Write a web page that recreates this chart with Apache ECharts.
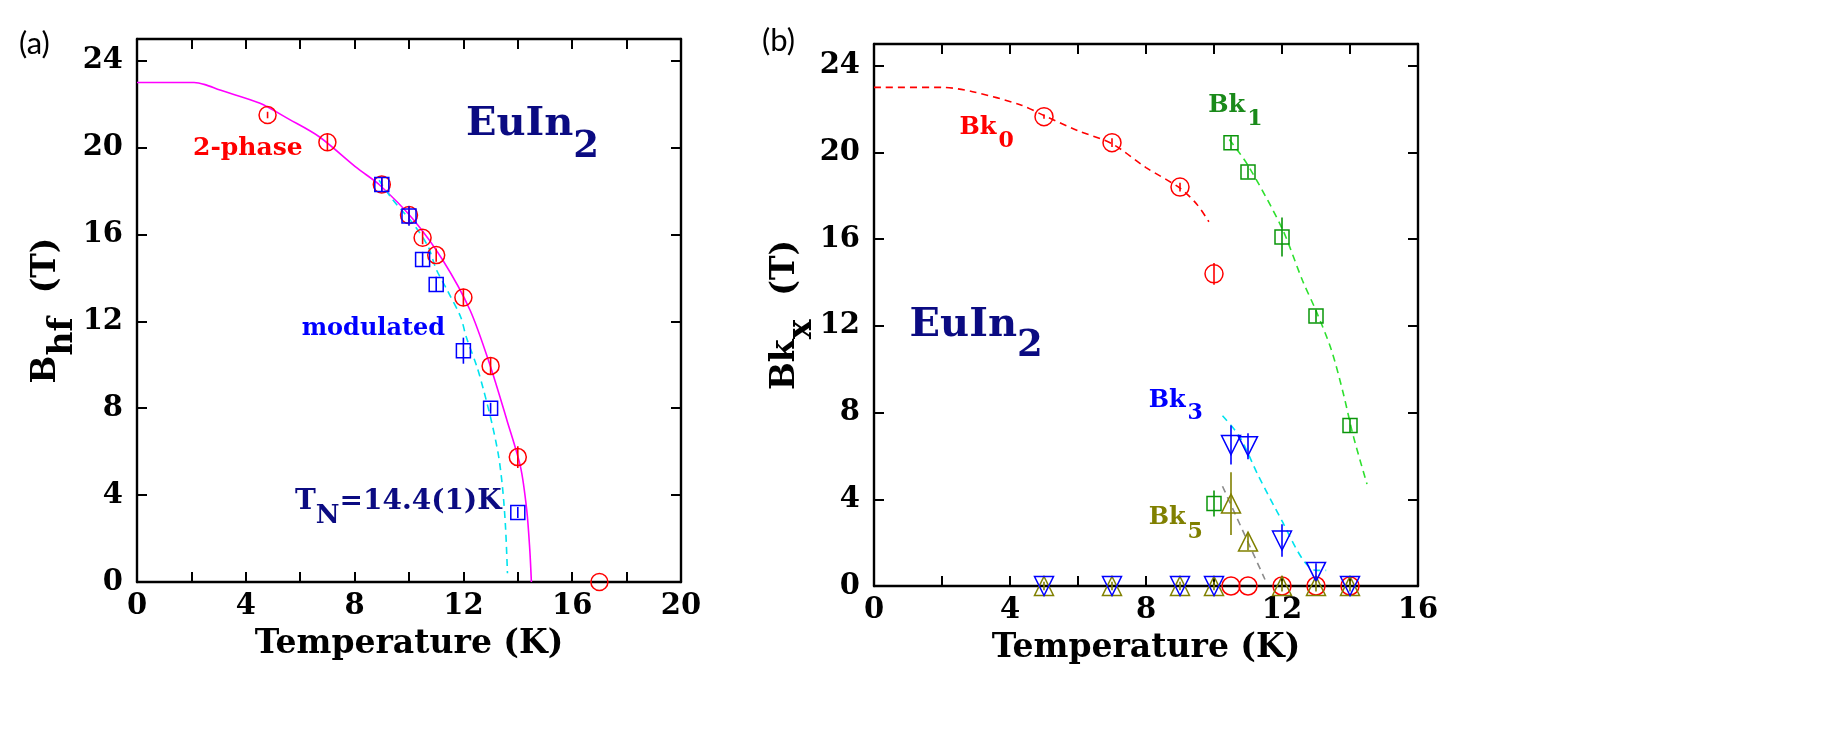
<!DOCTYPE html>
<html><head><meta charset="utf-8">
<script src="https://cdn.jsdelivr.net/npm/echarts@6/dist/echarts.min.js"></script>
<style>html,body{margin:0;padding:0;background:#fff}#c{width:1844px;height:731px}</style>
</head><body><div id="c"></div>
<script>
// ---------- Panel (a) data ----------
const aPhaseT = [4.8, 7, 9, 10, 10.5, 11, 12, 13, 14, 17];
const aPhaseB = [21.5, 20.25, 18.3, 16.9, 15.85, 15.05, 13.1, 9.95, 5.75, 0];
const aPhaseErr = [0.15, 0.4, 0.3, 0.4, 0.3, 0.3, 0.4, 0.4, 0.5, 0];
const aModT = [9, 10, 10.5, 11, 12, 13, 14];
const aModB = [18.3, 16.85, 14.85, 13.7, 10.65, 8.0, 3.2];
const aModErr = [0.3, 0.45, 0.35, 0.35, 0.6, 0.25, 0.25];
const aFitT = [0, 2.1, 2.5, 3.05, 4.5, 5.6, 6.7, 8.1, 8.9, 10.15, 11.25, 12.25, 13, 13.6, 14.1, 14.33, 14.44, 14.5];
const aFitB = [23, 23, 22.9, 22.65, 22.05, 21.3, 20.5, 19.05, 18.3, 16.7, 14.8, 12.5, 9.9, 7.45, 5.3, 3.3, 1.5, 0];
const aModFitT = [8.9, 9.4, 10.15, 10.7, 11, 11.4, 11.9, 12.1, 12.5, 12.75, 13.05, 13.3, 13.45, 13.55, 13.62];
const aModFitB = [18.5, 17.6, 16.5, 15.45, 14.4, 13.45, 12.2, 11.3, 9.9, 8.8, 7.3, 5.75, 4.2, 2.5, 0.4];

// ---------- Panel (b) data ----------
const bk0T = [5, 7, 9, 10, 10.5, 11, 12, 13, 14];
const bk0B = [21.65, 20.45, 18.4, 14.4, 0, 0, 0, 0, 0];
const bk0Err = [0.1, 0.2, 0.2, 0.5, 0, 0, 0, 0, 0];
const bk1T = [10, 10.5, 11, 12, 13, 14];
const bk1B = [3.8, 20.45, 19.1, 16.1, 12.45, 7.4];
const bk1Err = [0.6, 0.3, 0.3, 0.9, 0.3, 0.3];
const bk3T = [5, 7, 9, 10, 10.5, 11, 12, 13, 14];
const bk3B = [0, 0, 0, 0, 6.5, 6.45, 2.1, 0.65, 0];
const bk3Err = [0, 0, 0, 0, 0.9, 0.6, 0.75, 0.4, 0];
const bk5T = [5, 7, 9, 10, 10.5, 11, 12, 13, 14];
const bk5B = [0, 0, 0, 0, 3.8, 2.05, 0, 0, 0];
const bk5Err = [0.2, 0.2, 0.2, 0.2, 1.45, 0.4, 0.25, 0.25, 0.25];
const bk0FitT = [0, 2, 2.9, 4.3, 5, 6, 7, 8, 9, 9.5, 9.85];
const bk0FitB = [23, 23, 22.8, 22.2, 21.7, 21.0, 20.4, 19.3, 18.35, 17.6, 16.8];
const bk1FitT = [10.45, 11, 12, 12.6, 13, 13.45, 13.8, 14.1, 14.5];
const bk1FitB = [20.6, 19.4, 16.5, 14.1, 12.7, 10.9, 8.9, 6.9, 4.7];
const bk3FitT = [10.25, 10.75, 11.3, 12, 12.6, 13, 13.3];
const bk3FitB = [7.85, 6.9, 5.1, 3.0, 1.25, 0.72, 0.72];
const bk5FitT = [10.25, 11.5];
const bk5FitB = [4.6, 0.3];

// ---------- axis ticks ----------
const aXMax = 20, bXMax = 16, yMax = 25, xTickStep = 2, xLabelStep = 4, yTickStep = 4;

const RED = '#ff0000', BLUE = '#0000ff', NAVY = '#0b0b82', MAG = '#ff00ff', CYAN = '#00e3ee',
      GREEN = '#0a960a', GREENL = '#1a8a1a', LGREEN = '#2ee02e', OLIVE = '#808000', GRAY = '#8c8c8c';
const SERIF = '"DejaVu Serif", serif';

const zip = (xs, ys) => xs.map((x, i) => [x, ys[i]]);
const zip3 = (xs, ys, es) => xs.map((x, i) => [x, ys[i], es[i]]);

const ctx = document.createElement('canvas').getContext('2d');
function tw(text, size) { ctx.font = 'bold ' + size + 'px ' + SERIF; return ctx.measureText(text).width; }

// segments laid out left-to-right in local coords; baseline at y=0
function chain(segs, color) {
  let x = 0; const out = [];
  segs.forEach(s => {
    x += (s.gap || 0);
    out.push({
      type: 'text', x: x, y: (s.dy || 0) - 0.346 * s.s, silent: true,
      style: { text: s.t, fill: s.c || color, font: 'bold ' + s.s + 'px ' + SERIF,
               align: 'left', verticalAlign: 'middle', textAlign: 'left', textVerticalAlign: 'middle' }
    });
    x += tw(s.t, s.s);
  });
  return { children: out, width: x };
}
function label(x, baseline, segs, color) {
  const c = chain(segs, color);
  return { type: 'group', x: x, y: baseline, children: c.children, silent: true };
}
function vlabel(baselineX, centerY, segs, color) {
  const c = chain(segs, color);
  return { type: 'group', x: baselineX, y: centerY + c.width / 2, rotation: Math.PI / 2, children: c.children, silent: true };
}

function xAx(gi, max, pos, show) {
  return {
    type: 'value', gridIndex: gi, min: 0, max: max, interval: xTickStep, position: pos,
    axisLine: { onZero: false, lineStyle: { color: '#000', width: 2.4 } },
    axisTick: { inside: true, length: 10, lineStyle: { color: '#000', width: 2 } },
    axisLabel: { show: show, margin: 10, color: '#000', fontFamily: SERIF, fontWeight: 'bold', fontSize: 29,
                 formatter: v => (v % xLabelStep === 0 ? String(v) : '') },
    splitLine: { show: false },
    name: show ? 'Temperature (K)' : '', nameLocation: 'middle', nameGap: 46,
    nameTextStyle: { color: '#000', fontFamily: SERIF, fontWeight: 'bold', fontSize: 33 }
  };
}
function yAx(gi, pos, show) {
  return {
    type: 'value', gridIndex: gi, min: 0, max: yMax, interval: yTickStep, position: pos,
    axisLine: { onZero: false, lineStyle: { color: '#000', width: 2.4 } },
    axisTick: { inside: true, length: 10, lineStyle: { color: '#000', width: 2 } },
    axisLabel: { show: show, margin: 14, color: '#000', fontFamily: SERIF, fontWeight: 'bold', fontSize: 29,
                 formatter: v => (v % yTickStep === 0 ? String(v) : '') },
    splitLine: { show: false }
  };
}

function fit(xi, data, color, dashed) {
  return { type: 'line', xAxisIndex: xi, yAxisIndex: xi, data: data, showSymbol: false, symbol: 'none',
           smooth: 0.3, silent: true, z: 2,
           lineStyle: { color: color, width: 1.6, type: dashed ? [7, 5] : 'solid' } };
}
function pts(xi, data, symbol, size, color, rot) {
  return { type: 'scatter', xAxisIndex: xi, yAxisIndex: xi, data: data, symbol: symbol, symbolSize: size,
           symbolRotate: rot || 0, silent: true, z: 4,
           itemStyle: { color: 'rgba(0,0,0,0)', borderColor: color, borderWidth: 1.5, opacity: 1 } };
}
function errs(xi, data, color) {
  return { type: 'custom', xAxisIndex: xi, yAxisIndex: xi, data: data, silent: true, z: 5, clip: false,
           encode: { x: 0, y: 1 },
           renderItem: (params, api) => {
             const x = api.value(0), y = api.value(1), e = api.value(2);
             if (!e) return null;
             const p1 = api.coord([x, y - e]), p2 = api.coord([x, y + e]);
             return { type: 'line', shape: { x1: p1[0], y1: p1[1], x2: p2[0], y2: p2[1] },
                      style: { stroke: color, lineWidth: 1.6 } };
           } };
}

const chart = echarts.init(document.getElementById('c'), null, { renderer: 'canvas' });
chart.setOption({
  animation: false,
  backgroundColor: '#fff',
  grid: [
    { left: 137, top: 39, width: 544, height: 543 },
    { left: 874, top: 44, width: 544, height: 542 }
  ],
  xAxis: [xAx(0, aXMax, 'bottom', true), xAx(1, bXMax, 'bottom', true), xAx(0, aXMax, 'top', false), xAx(1, bXMax, 'top', false)],
  yAxis: [yAx(0, 'left', true), yAx(1, 'left', true), yAx(0, 'right', false), yAx(1, 'right', false)],
  series: [
    fit(0, zip(aFitT, aFitB), MAG, false),
    fit(0, zip(aModFitT, aModFitB), CYAN, true),
    pts(0, zip(aPhaseT, aPhaseB), 'circle', 17, RED),
    errs(0, zip3(aPhaseT, aPhaseB, aPhaseErr), RED),
    pts(0, zip(aModT, aModB), 'rect', 14, BLUE),
    errs(0, zip3(aModT, aModB, aModErr), BLUE),

    fit(1, zip(bk0FitT, bk0FitB), RED, true),
    fit(1, zip(bk1FitT, bk1FitB), LGREEN, true),
    fit(1, zip(bk3FitT, bk3FitB), CYAN, true),
    fit(1, zip(bk5FitT, bk5FitB), GRAY, true),
    pts(1, zip(bk0T, bk0B), 'circle', 18, RED),
    errs(1, zip3(bk0T, bk0B, bk0Err), RED),
    pts(1, zip(bk1T, bk1B), 'rect', 14, GREEN),
    errs(1, zip3(bk1T, bk1B, bk1Err), GREEN),
    pts(1, zip(bk5T, bk5B), 'triangle', 19, OLIVE),
    errs(1, zip3(bk5T, bk5B, bk5Err), OLIVE),
    pts(1, zip(bk3T, bk3B), 'triangle', 19, BLUE, 180),
    errs(1, zip3(bk3T, bk3B, bk3Err), BLUE)
  ],
  graphic: [
    { type: 'text', left: 19, top: 28, silent: true, style: { text: '(a)', fill: '#000', font: '31px Lato, "Open Sans", sans-serif' } },
    { type: 'text', left: 762, top: 25, silent: true, style: { text: '(b)', fill: '#000', font: '31px Lato, "Open Sans", sans-serif' } },
    label(193, 156.7, [{ t: '2-phase', s: 25 }], RED),
    label(466, 138.3, [{ t: 'EuIn', s: 40 }, { t: '2', s: 37, dy: 22 }], NAVY),
    label(301.7, 337.3, [{ t: 'modulated', s: 24 }], BLUE),
    label(295, 511.4, [{ t: 'T', s: 28 }, { t: 'N', s: 26, dy: 14.3 }, { t: '=14.4(1)K', s: 28 }], NAVY),
    label(959.5, 135.8, [{ t: 'Bk', s: 24 }, { t: '0', s: 22, dy: 13.1, gap: 2 }], RED),
    label(1208.3, 113.9, [{ t: 'Bk', s: 24 }, { t: '1', s: 22, dy: 12.6, gap: 2 }], GREENL),
    label(1148.7, 409.1, [{ t: 'Bk', s: 24 }, { t: '3', s: 22, dy: 11.7, gap: 2 }], BLUE),
    label(1148.7, 525.7, [{ t: 'Bk', s: 24 }, { t: '5', s: 22, dy: 13.9, gap: 2 }], OLIVE),
    label(909.6, 339.1, [{ t: 'EuIn', s: 40 }, { t: '2', s: 37, dy: 19.6 }], NAVY),
    vlabel(58, 310.5, [{ t: 'B', s: 33 }, { t: 'hf', s: 33, dy: 17 }, { t: '(T)', s: 33, gap: 24 }], '#000'),
    vlabel(797, 315, [{ t: 'Bk', s: 33 }, { t: 'x', s: 33, dy: 17 }, { t: '(T)', s: 33, gap: 24 }], '#000')
  ]
});
</script></body></html>
